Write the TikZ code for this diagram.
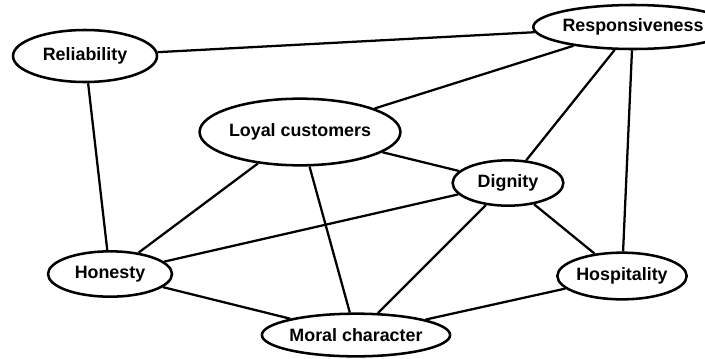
\documentclass[tikz,border=0pt]{standalone}
\usepackage{fontspec}
\setmainfont{Liberation Sans}
\usetikzlibrary{shapes.geometric}

\tikzset{
  trait/.style={ellipse, draw, line width=1.9pt, fill=white, inner sep=0pt,
    font=\fontsize{13.4}{15}\selectfont\bfseries},
  link/.style={line width=1.7pt}
}

\begin{document}
\begin{tikzpicture}[x=0.75pt,y=-0.75pt]
      \useasboundingbox (0,0) rectangle (705,358);

      % qualities
      \node[trait, minimum width=108pt, minimum height=39pt] (rel) at (85, 56) {Reliability};
      \node[trait, minimum width=106pt, minimum height=33pt] (resp) at (633, 27) {Responsiveness};
      \node[trait, minimum width=116pt, minimum height=50pt] (loyal) at (300, 132) {Loyal customers};
      \node[trait, minimum width=83pt, minimum height=34pt] (dig) at (508, 183) {Dignity};
      \node[trait, minimum width=93pt, minimum height=34pt] (hon) at (110, 274) {Honesty};
      \node[trait, minimum width=106pt, minimum height=32pt] (moral) at (356, 335) {Moral character};
      \node[trait, minimum width=97pt, minimum height=35pt] (hosp) at (622, 276) {Hospitality};

      % links
      \draw[link] (rel) -- (resp);
      \draw[link] (rel) -- (hon);
      \draw[link] (resp) -- (loyal);
      \draw[link] (resp) -- (dig);
      \draw[link] (resp) -- (hosp);
      \draw[link] (loyal) -- (dig);
      \draw[link] (loyal) -- (hon);
      \draw[link] (loyal) -- (moral);
      \draw[link] (dig) -- (hon);
      \draw[link] (dig) -- (moral);
      \draw[link] (dig) -- (hosp);
      \draw[link] (hon) -- (moral);
      \draw[link] (hosp) -- (moral);
\end{tikzpicture}
\end{document}
